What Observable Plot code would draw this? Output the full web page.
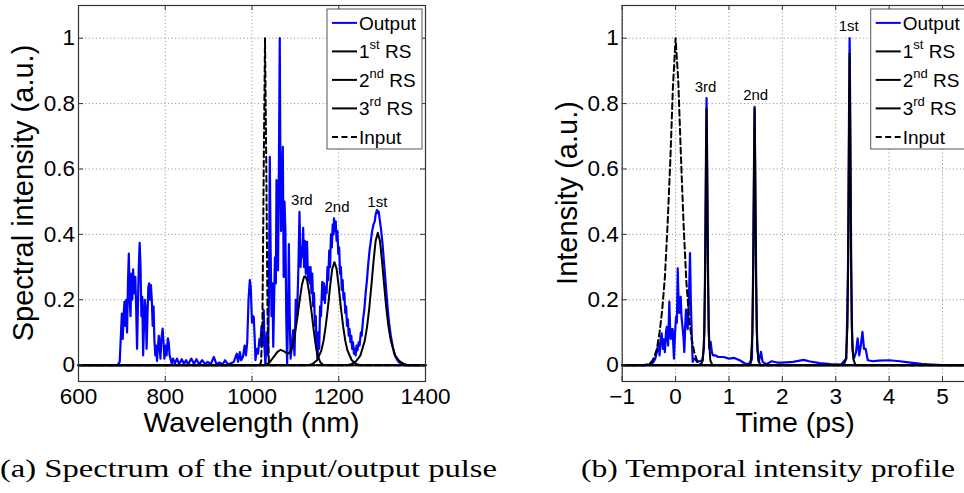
<!DOCTYPE html>
<html><head><meta charset="utf-8">
<script src="https://cdn.jsdelivr.net/npm/d3@7"></script>
<script src="https://cdn.jsdelivr.net/npm/@observablehq/plot@0.6"></script>
<style>
html,body{margin:0;padding:0;background:#fff;}
#wrap{position:relative;width:964px;height:493px;overflow:hidden;background:#fff;}
#wrap svg{position:absolute;top:0;}
</style></head><body><div id="wrap"></div>
<script>
// ---------- tick values ----------
const xTicksA = [600, 800, 1000, 1200, 1400];
const xTicksB = [-1, 0, 1, 2, 3, 4, 5];
const yTicks = [0, 0.2, 0.4, 0.6, 0.8, 1];

// ---------- panel (a): spectrum, [wavelength nm, intensity] ----------
const specOutput = [[600,0],[690,0],[695,0.01],[698,0.1],[700,0.158],[702,0.08],[704,0.15],[706,0.194],[708,0.12],[710,0.2],[712,0.1],[714,0.25],[716,0.341],[718,0.2],[720,0.15],[722,0.28],[724,0.2],[726,0.293],[728,0.22],[731,0.27],[733,0.17],[735,0.05],[737,0.18],[739,0.3],[741,0.374],[743,0.3],[745,0.15],[747,0.209],[749,0.03],[751,0.12],[753,0.2],[755,0.17],[757,0.05],[759,0.15],[761,0.24],[763,0.25],[765,0.2],[767,0.245],[769,0.2],[771,0.12],[773,0.18],[775,0.076],[777,0.03],[779,0.06],[781,0.013],[783,0.05],[785,0.09],[787,0.06],[789,0.02],[791,0.08],[794,0.112],[796,0.07],[798,0.02],[801,0.06],[803,0.03],[806,0.082],[808,0.07],[810,0.03],[812,0.02],[815,0.005],[818,0.02],[822,0.005],[827,0.02],[832,0.003],[838,0.018],[843,0.004],[848,0.015],[853,0.002],[860,0.02],[866,0.004],[872,0.018],[878,0.002],[885,0.015],[892,0.003],[898,0.01],[905,0.003],[912,0.025],[918,0.003],[925,0.008],[932,0.002],[938,0.015],[944,0.003],[950,0.005],[958,0.01],[965,0.035],[968,0.01],[972,0.04],[975,0.015],[979,0.025],[983,0.06],[986,0.03],[989,0.07],[992,0.2],[995,0.26],[997,0.24],[1000,0.13],[1002,0.15],[1004,0.148],[1006,0.09],[1008,0.015],[1011,0.05],[1014,0.035],[1017,0.08],[1019,0.06],[1022,0.12],[1025,0.06],[1027,0.168],[1029,0.05],[1031,0],[1034,0.1],[1037,0.03],[1039,0.2],[1041,0.637],[1043,0.35],[1045,0.15],[1047,0.25],[1049,0.056],[1051,0.2],[1053,0.33],[1055,0.25],[1056.5,0.566],[1058,0.4],[1060,0.29],[1062,0.6],[1064,1.0],[1065.5,0.6],[1067,0.41],[1069,0.55],[1071,0.668],[1073,0.27],[1075,0.5],[1077,0.41],[1079,0.15],[1081,0],[1083,0.15],[1085,0.37],[1087,0.15],[1089,0.02],[1092,0.06],[1095,0.107],[1098,0.03],[1101,0.2],[1104,0.15],[1107,0.3],[1109.5,0.469],[1112,0.3],[1114,0.36],[1116,0.33],[1118,0.42],[1120,0.3],[1122,0.38],[1124,0.28],[1127,0.377],[1129,0.26],[1131,0.3],[1133,0.25],[1135,0.3],[1137,0.22],[1139,0.28],[1141,0.18],[1143,0.22],[1145,0.12],[1147,0.15],[1149,0.05],[1151,0.02],[1153,0.1],[1155,0.05],[1157,0.18],[1159,0.15],[1162,0.255],[1164,0.2],[1166,0.25],[1168,0.19],[1170,0.24],[1172,0.22],[1174,0.3],[1176,0.26],[1178,0.35],[1180,0.3],[1182,0.4],[1184,0.36],[1186,0.43],[1188,0.4],[1189,0.449],[1191,0.41],[1193,0.44],[1195,0.38],[1197,0.41],[1199,0.34],[1201,0.36],[1203,0.28],[1205,0.3],[1207,0.23],[1209,0.26],[1211,0.2],[1213,0.22],[1215,0.16],[1217,0.18],[1219,0.12],[1221,0.14],[1223,0.09],[1225,0.11],[1227,0.07],[1229,0.09],[1231,0.05],[1233,0.07],[1235,0.035],[1237,0.05],[1239,0.03],[1241,0.06],[1243,0.045],[1246,0.07],[1248,0.06],[1251,0.1],[1253,0.09],[1256,0.14],[1259,0.17],[1262,0.22],[1265,0.26],[1268,0.31],[1271,0.35],[1274,0.38],[1277,0.41],[1280,0.43],[1283,0.44],[1285,0.46],[1288,0.474],[1290,0.465],[1292,0.47],[1295,0.44],[1298,0.41],[1301,0.37],[1304,0.32],[1307,0.27],[1310,0.22],[1313,0.17],[1316,0.13],[1320,0.09],[1324,0.06],[1328,0.035],[1333,0.02],[1338,0.01],[1345,0.003],[1355,0],[1400,0]];
const specRS1 = [[600,0],[1220,0],[1230,0.004],[1240,0.012],[1250,0.03],[1260,0.075],[1265,0.115],[1270,0.17],[1275,0.24],[1280,0.315],[1285,0.38],[1290,0.405],[1295,0.38],[1300,0.315],[1305,0.24],[1310,0.17],[1315,0.115],[1320,0.075],[1330,0.03],[1340,0.012],[1350,0.004],[1360,0],[1400,0]];
const specRS2 = [[600,0],[1130,0],[1140,0.004],[1150,0.015],[1160,0.045],[1165,0.075],[1170,0.12],[1175,0.175],[1180,0.24],[1185,0.295],[1190,0.315],[1195,0.295],[1200,0.24],[1205,0.175],[1210,0.12],[1215,0.075],[1220,0.045],[1230,0.015],[1240,0.004],[1250,0],[1400,0]];
const specRS3 = [[600,0],[1030,0],[1040,0.008],[1050,0.025],[1058,0.04],[1066,0.047],[1074,0.042],[1080,0.037],[1085,0.036],[1090,0.045],[1095,0.07],[1100,0.105],[1105,0.15],[1110,0.2],[1115,0.245],[1120,0.27],[1123,0.272],[1127,0.26],[1132,0.22],[1137,0.165],[1142,0.11],[1147,0.06],[1152,0.027],[1158,0.008],[1165,0],[1400,0]];
const specInput = [[600,0],[1018,0],[1021,0.01],[1024,0.13],[1027,0.6],[1030,1],[1033,0.6],[1036,0.13],[1039,0.01],[1042,0],[1400,0]];
const specNotes = [["3rd",1115,0.49],["2nd",1196,0.468],["1st",1289,0.483]];

// ---------- panel (b): temporal profile, [time ps, intensity] ----------
const timeOutput = [[-1,0],[-0.6,0],[-0.5,0.002],[-0.42,0.008],[-0.38,0.02],[-0.35,0.04],[-0.32,0.066],[-0.3,0.03],[-0.28,0.08],[-0.26,0.097],[-0.24,0.05],[-0.22,0.08],[-0.2,0.04],[-0.18,0.1],[-0.165,0.117],[-0.14,0.06],[-0.117,0.194],[-0.1,0.1],[-0.09,0.08],[-0.07,0.11],[-0.054,0.11],[-0.04,0.05],[-0.03,0.02],[-0.01,0.1],[0.009,0.148],[0.025,0.13],[0.04,0.296],[0.055,0.2],[0.07,0.16],[0.085,0.2],[0.096,0.209],[0.11,0.15],[0.134,0.11],[0.15,0.08],[0.164,0.04],[0.18,0.12],[0.195,0.17],[0.21,0.13],[0.227,0.11],[0.25,0.2],[0.27,0.343],[0.285,0.2],[0.3,0.11],[0.32,0.01],[0.34,0.02],[0.36,0.02],[0.4,0.01],[0.45,0.012],[0.5,0.015],[0.53,0.05],[0.55,0.25],[0.57,0.65],[0.58,0.817],[0.59,0.65],[0.61,0.25],[0.63,0.05],[0.657,0.071],[0.68,0.04],[0.7,0.03],[0.74,0.03],[0.8,0.025],[0.9,0.025],[1.0,0.02],[1.1,0.022],[1.2,0.015],[1.3,0.005],[1.4,0.003],[1.43,0.02],[1.45,0.25],[1.47,0.63],[1.48,0.79],[1.49,0.63],[1.51,0.25],[1.53,0.05],[1.56,0.01],[1.6,0.041],[1.63,0.01],[1.7,0.003],[1.8,0.012],[1.9,0.008],[2.0,0.008],[2.2,0.01],[2.4,0.016],[2.5,0.012],[2.7,0.006],[2.9,0.003],[3.1,0.002],[3.2,0.02],[3.23,0.3],[3.25,0.8],[3.26,1.0],[3.27,0.8],[3.29,0.3],[3.31,0.05],[3.34,0.02],[3.38,0.04],[3.41,0.082],[3.44,0.03],[3.47,0.06],[3.5,0.102],[3.53,0.05],[3.56,0.05],[3.6,0.015],[3.7,0.012],[3.8,0.014],[4.0,0.015],[4.2,0.012],[4.4,0.008],[4.6,0.004],[4.8,0.002],[5.0,0],[5.5,0]];
const timeRS1 = [[-1,0],[3.15,0],[3.19,0.018],[3.22,0.12],[3.235,0.36],[3.25,0.75],[3.26,0.953],[3.27,0.75],[3.285,0.36],[3.3,0.12],[3.33,0.018],[3.37,0],[5.5,0]];
const timeRS2 = [[-1,0],[1.37,0],[1.41,0.015],[1.44,0.1],[1.455,0.3],[1.47,0.62],[1.48,0.785],[1.49,0.62],[1.505,0.3],[1.52,0.1],[1.55,0.015],[1.59,0],[5.5,0]];
const timeRS3 = [[-1,0],[0.47,0],[0.51,0.015],[0.54,0.1],[0.555,0.3],[0.57,0.62],[0.58,0.785],[0.59,0.62],[0.605,0.3],[0.62,0.1],[0.65,0.015],[0.69,0],[5.5,0]];
const timeInput = [[-1,0],[-0.6,0],[-0.5,0.003],[-0.45,0.01],[-0.4,0.025],[-0.35,0.05],[-0.3,0.1],[-0.25,0.17],[-0.2,0.27],[-0.15,0.43],[-0.1,0.62],[-0.05,0.85],[0,1],[0.05,0.87],[0.1,0.64],[0.15,0.43],[0.2,0.26],[0.25,0.15],[0.3,0.08],[0.35,0.04],[0.4,0.015],[0.45,0.005],[0.5,0],[5.5,0]];
const timeNotes = [["1st",3.243,1.021],["3rd",0.562,0.835],["2nd",1.5,0.81]];

// ---------- legend & texts ----------
const legendItems = [
  {main:"Output", sup:"", tail:"", color:"#0000ff", dash:null},
  {main:"1", sup:"st", tail:" RS", color:"#000", dash:null},
  {main:"2", sup:"nd", tail:" RS", color:"#000", dash:null},
  {main:"3", sup:"rd", tail:" RS", color:"#000", dash:null},
  {main:"Input", sup:"", tail:"", color:"#000", dash:"6,3.5"}
];
const captions = ["(a) Spectrum of the input/output pulse", "(b) Temporal intensity profile"];

const toObj = arr => arr.map(([x, y]) => ({x, y}));
const fmt = d => d < 0 ? "\u2212" + Math.abs(d) : String(d);
const SANS = "Liberation Sans, Arial, Helvetica, sans-serif";

const H = 430, MT = 5, MB = 49, PH = H - MT - MB, PW = 347;

function panel(cfg) {
  const {left, width, marginLeft, xDomain, xTicks, output, rs, input, notes, xLabel, yLabel} = cfg;
  const marginRight = width - marginLeft - PW;
  const line = (d, o) => Plot.line(toObj(d), {x: "x", y: "y", strokeWidth: 2, ...o});
  const grid = {stroke: "#8a8a8a", strokeOpacity: 1, strokeWidth: 1, strokeDasharray: "1,2.6"};
  const tickStroke = {stroke: "#333", strokeWidth: 1};
  const svg = Plot.plot({
    width, height: H, marginLeft, marginRight, marginTop: MT, marginBottom: MB,
    style: {fontFamily: SANS, fontSize: "22.5px", background: "transparent", overflow: "visible", color: "#000"},
    x: {domain: xDomain},
    y: {domain: [-0.05, 1.1]},
    marks: [
      Plot.gridX(xTicks, grid),
      Plot.gridY(yTicks, grid),
      line(output, {stroke: "#0000ff", strokeWidth: 2.2}),
      line(rs[0], {stroke: "#000"}),
      line(rs[1], {stroke: "#000"}),
      line(rs[2], {stroke: "#000"}),
      line(input, {stroke: "#000", strokeDasharray: "6,3.5"}),
      Plot.frame({stroke: "#333", strokeWidth: 1.2}),
      Plot.ruleX(xTicks, {insetTop: PH - 5, ...tickStroke}),
      Plot.ruleX(xTicks, {insetBottom: PH - 5, ...tickStroke}),
      Plot.ruleY(yTicks, {insetRight: PW - 5, ...tickStroke}),
      Plot.ruleY(yTicks, {insetLeft: PW - 5, ...tickStroke}),
      Plot.axisX(xTicks, {tickSize: 0, tickPadding: 6.5, tickFormat: fmt, fontSize: 22.5, label: null}),
      Plot.axisY(yTicks, {tickSize: 0, tickPadding: 3.5, tickFormat: fmt, fontSize: 22.5, label: null}),
      Plot.text(notes, {x: d => d[1], y: d => d[2], text: d => d[0], lineAnchor: "bottom", fontSize: 15, fill: "#000"})
    ]
  });
  svg.style.left = left + "px";
  const s = d3.select(svg);
  // axis titles
  s.append("text").attr("x", marginLeft + PW / 2).attr("y", 432)
    .attr("text-anchor", "middle").attr("font-size", 28.5).attr("font-family", SANS).attr("fill", "#000").text(xLabel);
  s.append("text").attr("transform", `translate(${marginLeft - 45},${MT + PH / 2}) rotate(-90)`)
    .attr("text-anchor", "middle").attr("font-size", 29).attr("font-family", SANS).attr("fill", "#000").text(yLabel);
  // legend
  const lw = 95, lh = 140;
  const lx = marginLeft + PW - 3 - lw, ly = MT + 4;
  const g = s.append("g").attr("font-family", SANS).attr("fill", "#000").attr("text-anchor", "start");
  g.append("rect").attr("x", lx).attr("y", ly).attr("width", lw).attr("height", lh)
    .attr("fill", "#fff").attr("stroke", "#555").attr("stroke-width", 1);
  legendItems.forEach((it, i) => {
    const yy = ly + 13.9 + i * 28.5;
    g.append("line").attr("x1", lx + 5).attr("x2", lx + 30).attr("y1", yy).attr("y2", yy)
      .attr("stroke", it.color).attr("stroke-width", 2).attr("stroke-dasharray", it.dash);
    const t = g.append("text").attr("x", lx + 32).attr("y", yy + 7).attr("font-size", 19).attr("text-anchor", "start");
    t.append("tspan").text(it.main);
    if (it.sup) {
      t.append("tspan").attr("font-size", 13).attr("dy", -9).text(it.sup);
      t.append("tspan").attr("dy", 9).text(it.tail);
    }
  });
  return svg;
}

const wrap = document.getElementById("wrap");
wrap.appendChild(panel({
  left: 0, width: 440, marginLeft: 78, xDomain: [600, 1400], xTicks: xTicksA,
  output: specOutput, rs: [specRS1, specRS2, specRS3], input: specInput, notes: specNotes,
  xLabel: "Wavelength (nm)", yLabel: "Spectral intensity (a.u.)"
}));
wrap.appendChild(panel({
  left: 500, width: 500, marginLeft: 121.7, xDomain: [-1, 5.5], xTicks: xTicksB,
  output: timeOutput, rs: [timeRS1, timeRS2, timeRS3], input: timeInput, notes: timeNotes,
  xLabel: "Time (ps)", yLabel: "Intensity (a.u.)"
}));

// captions
const cap = d3.select(wrap).append("svg").attr("width", 964).attr("height", 493)
  .style("left", "0px").style("pointer-events", "none");
const capSpec = [{x: 0, len: 497}, {x: 581, len: 374}];
captions.forEach((c, i) => {
  cap.append("text").attr("x", capSpec[i].x).attr("y", 477).attr("text-anchor", "start")
    .attr("font-family", "Liberation Serif, Times New Roman, serif").attr("font-size", 25)
    .attr("textLength", capSpec[i].len).attr("lengthAdjust", "spacingAndGlyphs")
    .attr("fill", "#000").text(c);
});
</script></body></html>
